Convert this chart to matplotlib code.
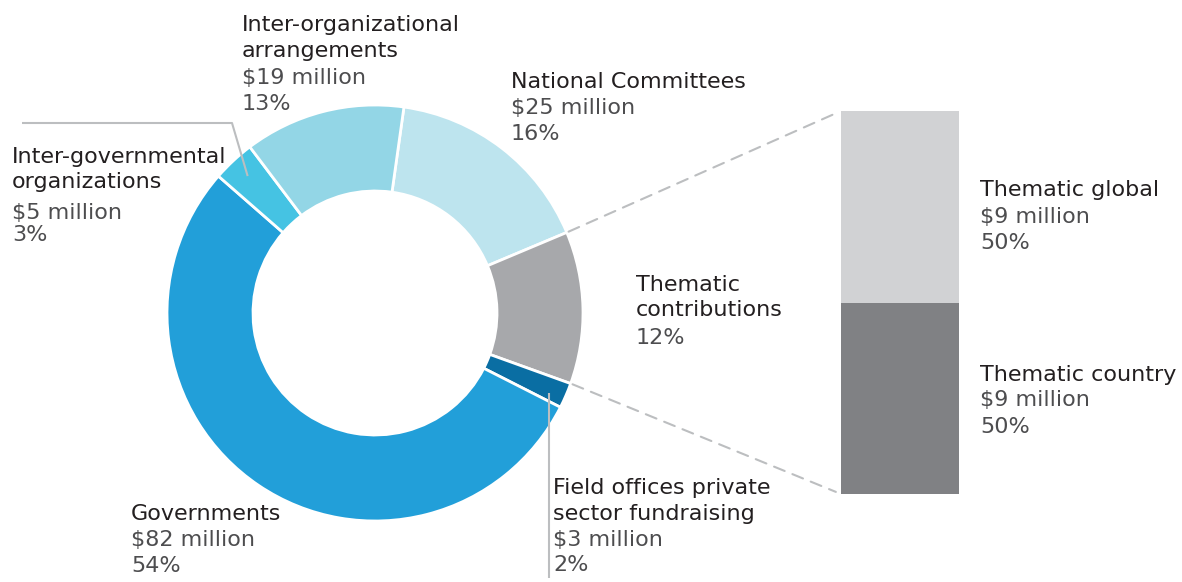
import matplotlib
matplotlib.use('Agg')
import matplotlib.pyplot as plt
import numpy as np
from matplotlib.patches import ConnectionPatch

W, H = 1182, 582

# donut, drawn clockwise from the top
sources = ['National Committees', 'Thematic\ncontributions',
           'Field offices private\nsector fundraising', 'Governments',
           'Inter-governmental\norganizations', 'Inter-organizational\narrangements']
amounts = [25, 18, 3, 82, 5, 19]
shares = [16, 12, 2, 54, 3, 13]
colors = ['#BDE4EE', '#A7A8AB', '#0A6EA3', '#229FD9', '#45C3E3', '#93D6E6']

# thematic breakdown (bottom to top)
thematic = ['Thematic country', 'Thematic global']
thematic_amounts = [9, 9]
thematic_shares = [50, 50]
thematic_colors = ['#808184', '#D1D2D4']

NAME_C = '#231F20'
VAL_C = '#4D4D4F'
LINE_C = '#BCBEC0'
FS = 16

fig = plt.figure(figsize=(W / 100, H / 100), dpi=100)
ax = fig.add_axes([0, 0, 1, 1])

# y axis runs downward (pixel-like), so data angles increasing = clockwise on screen
cx, cy, R, RW = 375, 313, 208, 86
wedges, _ = ax.pie(amounts, colors=colors, startangle=-82, counterclock=True,
                   center=(cx, cy), radius=R, frame=True,
                   wedgeprops=dict(width=RW, edgecolor='white', linewidth=2))
ax.set_xlim(0, W)
ax.set_ylim(H, 0)
ax.set_aspect('equal')
ax.axis('off')


def pt(theta, r):
    t = np.deg2rad(theta)
    return cx + r * np.cos(t), cy + r * np.sin(t)


def label(x, ys, name_lines, value_lines):
    for i, (y, s) in enumerate(zip(ys, name_lines + value_lines)):
        ax.text(x, y, s, fontsize=FS, va='center', ha='left',
                color=NAME_C if i < len(name_lines) else VAL_C)


def values_for(i, with_amount=True):
    out = [f'${amounts[i]} million'] if with_amount else []
    out.append(f'{shares[i]}%')
    return out


label(511, [82, 108, 134], sources[0].split('\n'), values_for(0))
label(636, [285, 310, 338], sources[1].split('\n'), values_for(1, with_amount=False))
label(553, [488, 514, 540, 565], sources[2].split('\n'), values_for(2))
label(131, [514, 540, 566], sources[3].split('\n'), values_for(3))
label(12, [157, 182, 213, 235], sources[4].split('\n'), values_for(4))
label(242, [25, 51, 78, 104], sources[5].split('\n'), values_for(5))

# leader lines
w = wedges[4]
ex, ey = pt((w.theta1 + w.theta2) / 2, 187)
ax.plot([22, 232, ex], [123, 123, ey], color=LINE_C, lw=1.5, solid_capstyle='butt')
w = wedges[2]
ex, ey = pt((w.theta1 + w.theta2) / 2, 190)
ax.plot([ex, ex], [ey + 5, 578], color=LINE_C, lw=1.5, solid_capstyle='butt')

# stacked bar for thematic split
bx0, by0, bx1, by1 = 841, 111, 959, 494
ax2 = fig.add_axes([bx0 / W, (H - by1) / H, (bx1 - bx0) / W, (by1 - by0) / H])
bottom = 0
for v, c in zip(thematic_amounts, thematic_colors):
    ax2.bar([0], [v], bottom=bottom, width=1, color=c, linewidth=0)
    bottom += v
ax2.set_xlim(-0.5, 0.5)
ax2.set_ylim(0, sum(thematic_amounts))
ax2.axis('off')

for i, ys in zip([0, 1], [[375, 400, 427], [190, 217, 243]]):
    label(980, ys, [thematic[i]],
          [f'${thematic_amounts[i]} million', f'{thematic_shares[i]}%'])

# dashed connectors from thematic wedge to bar
w = wedges[1]
for theta, by in [(w.theta1, sum(thematic_amounts)), (w.theta2, 0)]:
    con = ConnectionPatch(xyA=pt(theta, 210), coordsA=ax.transData,
                          xyB=(-0.5, by), coordsB=ax2.transData,
                          color=LINE_C, lw=1.5, linestyle=(0, (5.5, 4)),
                          shrinkB=4)
    fig.add_artist(con)

fig.savefig('out.png', dpi=100, facecolor='white')
